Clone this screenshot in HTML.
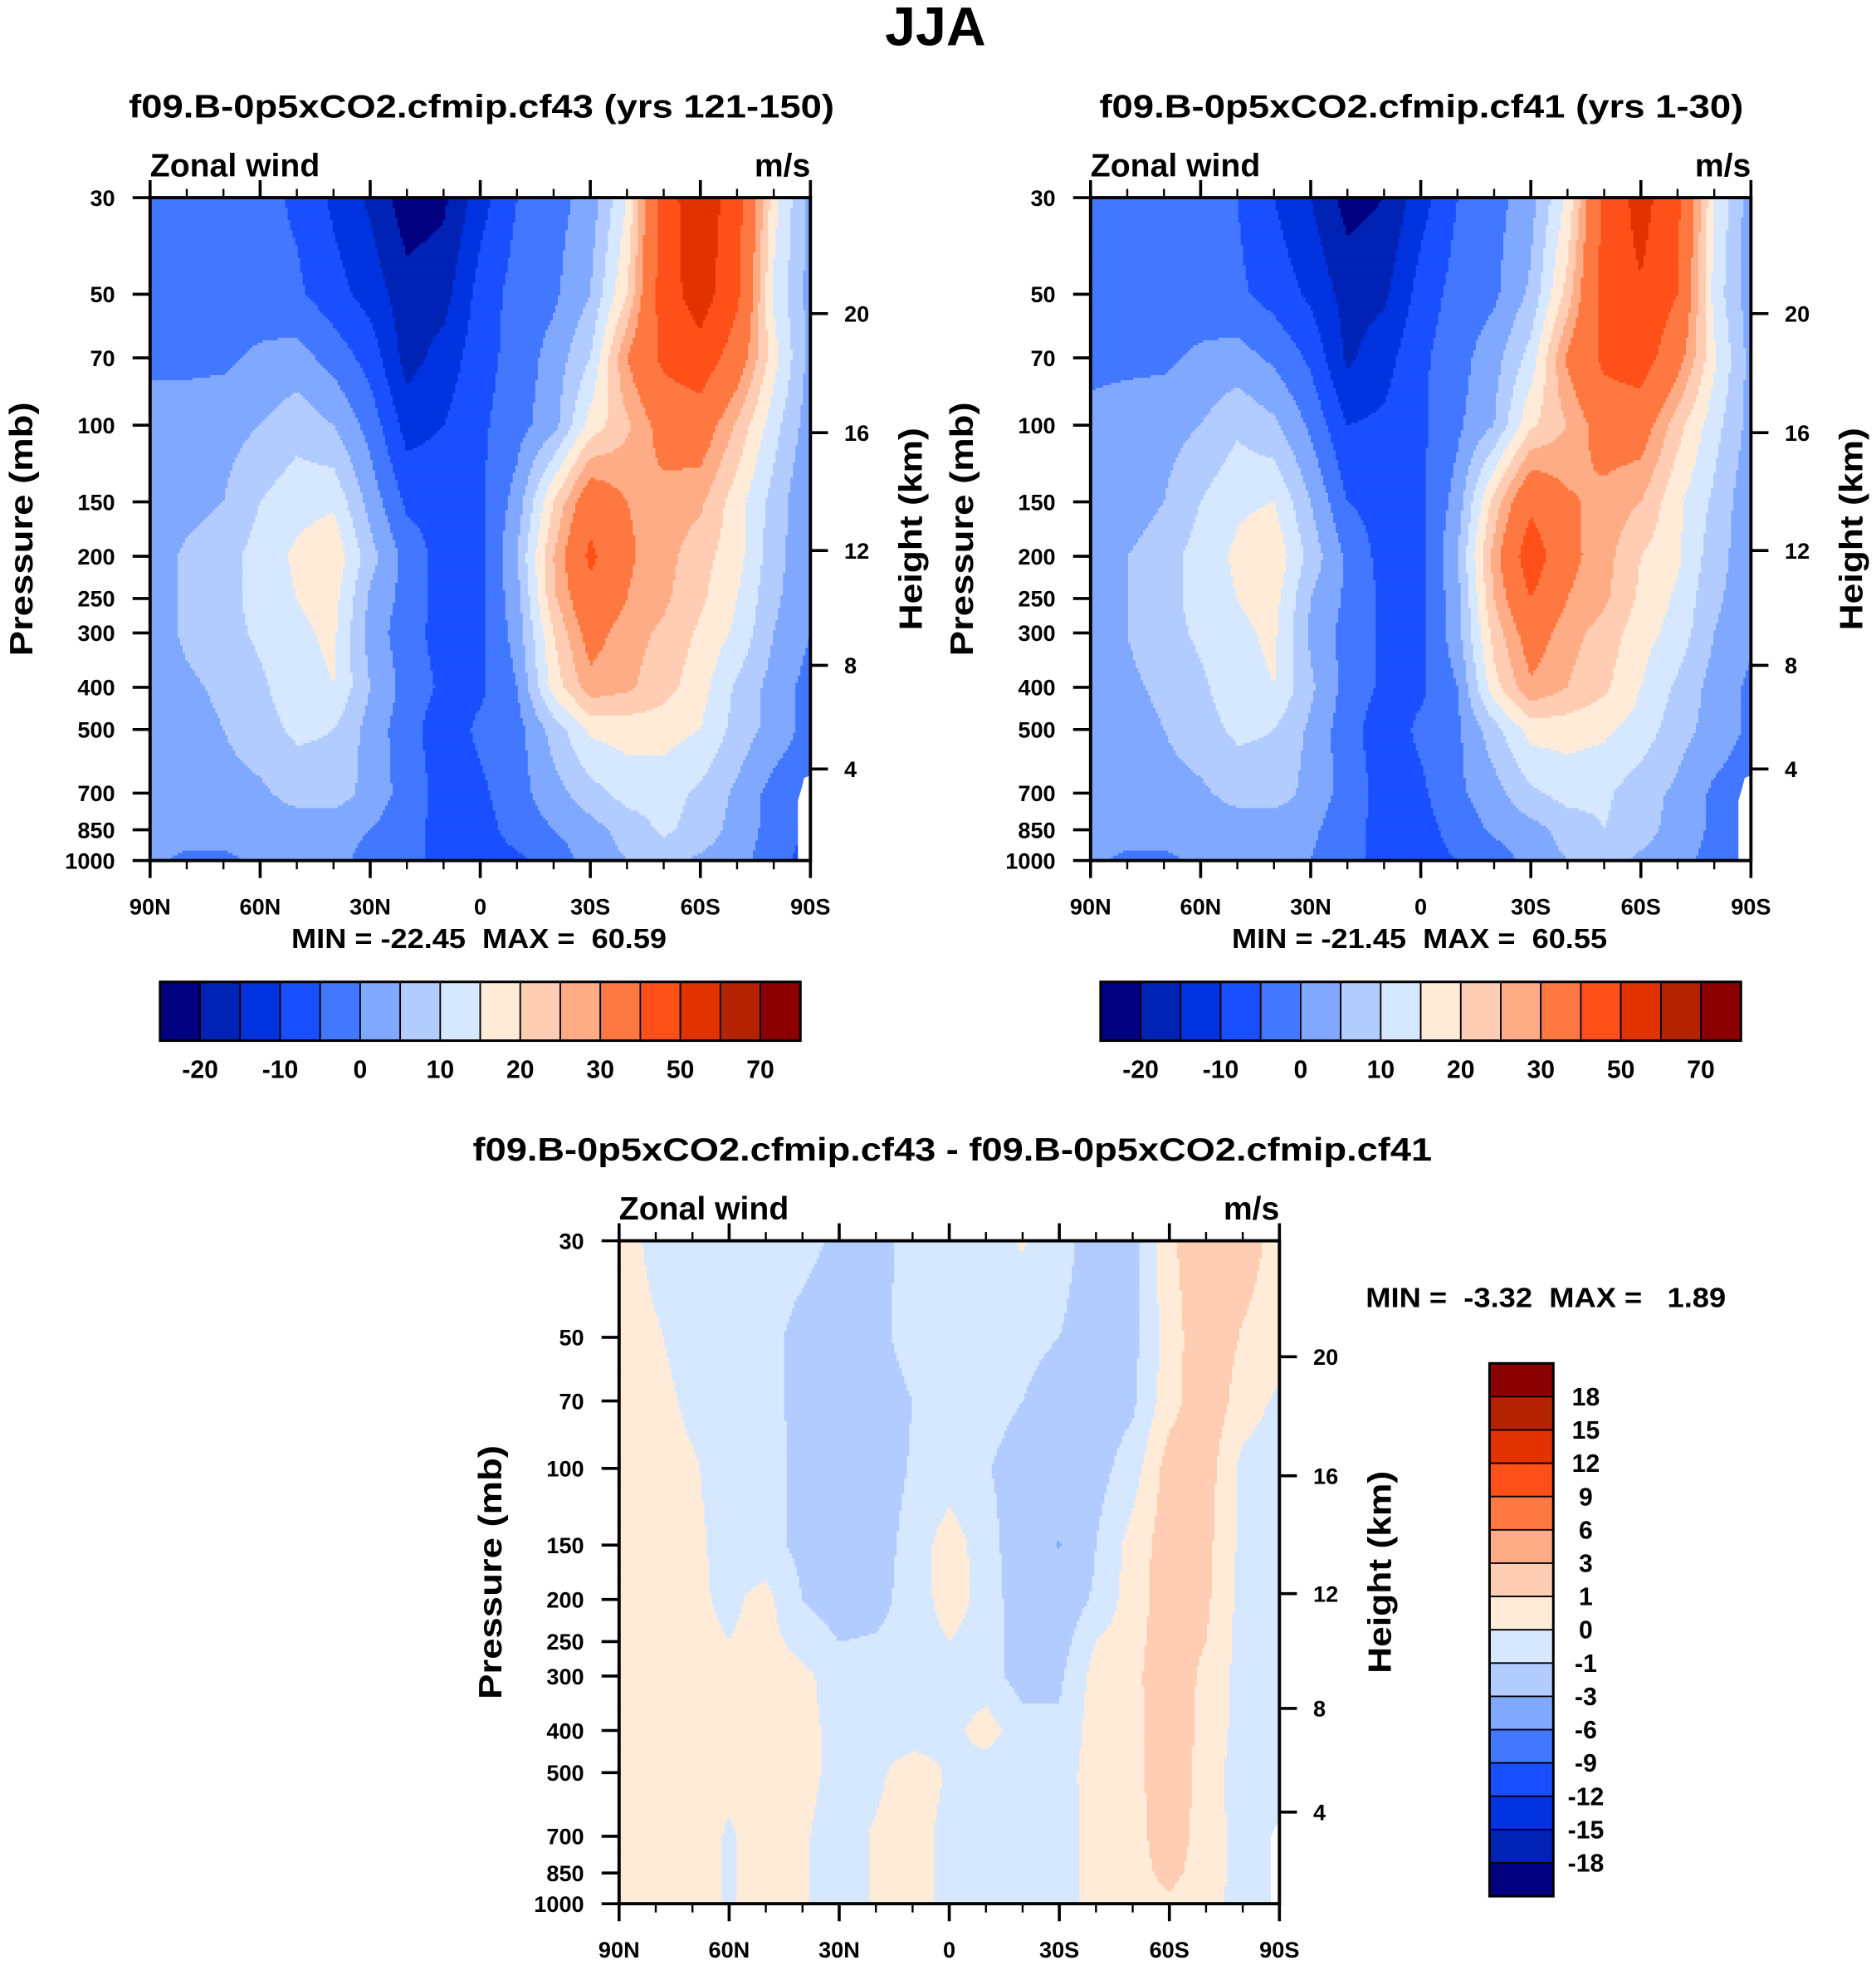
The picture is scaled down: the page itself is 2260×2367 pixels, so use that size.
<!DOCTYPE html>
<html><head><meta charset="utf-8"><title>JJA Zonal wind</title>
<style>
html,body{margin:0;padding:0;background:#fff;}
svg{display:block;}
text{font-family:"Liberation Sans",Arial,sans-serif;font-weight:bold;fill:#000;}
.pre{white-space:pre;}
</style></head>
<body>
<svg id="fig" xmlns="http://www.w3.org/2000/svg" width="2260" height="2367" viewBox="0 0 1500 1571">
<rect x="0" y="0" width="1500" height="1571" fill="#fff"/>
<text x="748" y="36" font-size="44" text-anchor="middle">JJA</text>
</svg>
<script>
// ---- data ----
const lats = [90,80,70,60,50,40,30,20,10,0,-10,-20,-30,-40,-50,-60,-70,-80,-90];
const levels = [30,50,70,100,150,200,250,300,400,500,700,850,1000];
const uCf43 = [
[-3,-3,-3,-3,-6,-11,-16,-23,-21,-12,-5,-2,2,15,45,57,44,17,3],
[-3,-3,-3,-3,-4,-8,-12,-18,-17,-8,-3,-1,5,20,45,55,42,14,3],
[-1,-1,-1,1,2,-2,-7,-17,-13,-7,-3,2,10,30,42,46,35,17,3],
[2,2,3,5,8,5,-2,-12,-10,-6,-2,3,17,24,33,35,24,12,2],
[2,3,5,10,13,14,3,-6,-7,-6,2,20,36,30,28,26,17,8,0],
[2,6,8,12,16,19,7,-2,-7,-7,5,25,42,31,27,22,17,7,1],
[2,6,8,12,15,17,4,-2,-7,-6,3,24,37,30,26,21,15,6,1],
[2,6,8,11,14,16,3,-3,-7,-6,2,20,33,27,24,19,14,5,0],
[2,4,6,9,13,15,5,-2,-6,-6,0,17,28,26,22,17,9,3,-2],
[2,3,5,8,11,10,3,-3,-8,-4,-2,7,16,17,17,15,8,3,-2],
[2,2,3,4,7,8,3,-2,-7,-6,-2,3,8,12,12,9,4,-2,-4],
[2,2,2,2,2,1,0,-3,-7,-7,-3,0,3,7,11,8,3,-2,-6],
[1,-1,-1,1,1,1,-1,-4,-6,-7,-6,-3,2,5,7,4,2,-3,-7]];
const uCf41 = [
[-3,-3,-3,-3,-5,-10,-15,-22,-20,-12,-5,-2,3,16,42,54,42,15,2],
[-3,-3,-3,-3,-4,-7,-11,-17,-16,-8,-3,-1,6,22,44,49,40,13,2],
[-1,-1,-1,1,2,-1,-6,-16,-12,-6,-2,3,12,31,42,45,33,16,3],
[1,2,3,5,9,6,-1,-10,-9,-6,-1,5,19,25,34,34,22,12,3],
[1,2,5,10,14,15,5,-5,-7,-6,2,22,38,31,28,25,16,9,1],
[1,5,8,12,16,19,8,-1,-7,-7,5,27,46,32,27,20,16,7,2],
[1,5,8,12,15,17,5,-1,-6,-6,3,25,40,30,26,19,14,6,2],
[1,5,8,11,14,16,4,-2,-6,-6,3,22,34,27,23,17,13,5,1],
[1,4,6,9,13,15,6,-2,-6,-6,0,18,29,25,21,15,9,3,-1],
[1,3,5,8,11,10,4,-3,-8,-4,-1,8,17,17,16,13,7,3,-1],
[1,2,3,4,7,8,3,-2,-7,-6,-1,3,9,12,11,7,4,-1,-3],
[1,2,2,2,2,1,1,-3,-7,-7,-3,1,3,7,10,7,3,-1,-5],
[1,-1,-1,1,1,1,0,-4,-6,-7,-5,-3,2,5,7,4,2,-2,-6]];
const uDiff = [
[0.5,-0.3,-0.5,-0.5,-0.6,-0.7,-1.2,-1.3,-0.7,-0.5,-0.4,0.1,-0.6,-1.5,-1.5,0.8,1.8,1.5,0.6],
[0.5,0.1,-0.4,-0.5,-0.7,-1.3,-1.6,-1.3,-0.6,-0.4,-0.5,-0.7,-1.0,-1.5,-1.3,0.5,1.8,0.9,0.5],
[0.5,0.3,-0.2,-0.5,-0.8,-1.2,-1.6,-1.5,-1.0,-0.6,-0.5,-1.0,-1.5,-1.6,-1.2,0.6,1.8,0.5,-0.2],
[0.6,0.4,0.1,-0.4,-0.7,-1.2,-1.8,-1.6,-0.9,-0.5,-0.9,-1.6,-1.7,-1.4,-0.5,1.5,1.5,-0.3,-0.5],
[0.6,0.5,0.2,-0.3,-0.6,-1.3,-1.7,-1.5,-0.6,0.5,-0.5,-1.8,-3.1,-1.0,0.4,1.6,1.3,-0.3,-0.6],
[0.6,0.5,0.2,-0.2,0.3,-1.0,-1.6,-1.4,-0.5,0.4,-0.3,-1.8,-1.8,-0.8,0.5,1.6,1.2,-0.4,-0.6],
[0.6,0.5,0.3,0.0,0.3,-0.3,-1.0,-0.9,-0.5,0.0,-0.4,-1.6,-1.5,0.0,0.6,1.7,1.0,-0.4,-0.6],
[0.6,0.5,0.4,0.2,0.4,0.2,-0.4,-0.5,-0.5,-0.4,-0.5,-1.5,-1.2,0.4,0.7,1.8,0.7,-0.4,-0.6],
[0.6,0.5,0.4,0.1,0.5,0.3,-0.3,-0.5,-0.5,-0.3,0.4,-0.5,-0.8,0.5,0.6,1.8,0.6,-0.4,-0.6],
[0.6,0.5,0.4,0.2,0.5,0.3,-0.3,-0.2,0.5,-0.1,-0.5,-0.9,-0.4,0.4,0.6,1.8,0.5,-0.5,-0.7],
[0.6,0.5,0.4,-0.1,0.4,0.1,-0.4,0.1,0.4,-0.3,-0.5,-0.5,-0.4,0.3,0.6,1.6,0.5,-0.4,-0.7],
[0.6,0.5,0.4,-0.1,0.4,0.1,-0.4,0.1,0.4,-0.3,-0.5,-0.5,-0.4,0.3,0.6,1.3,0.5,-0.4,-0.7],
[0.6,0.5,0.4,-0.1,0.4,0.1,-0.4,0.1,0.4,-0.3,-0.5,-0.5,-0.4,0.3,0.6,0.8,0.4,-0.4,-0.7]];
const bounds1 = [-20,-15,-10,-5,0,5,10,15,20,25,30,40,50,60,70];
const bounds3 = [-18,-15,-12,-9,-6,-3,-1,0,1,3,6,9,12,15,18];
const palette = ["#000080","#0022b5","#0033e0","#1a4fff","#4277ff","#80a8ff","#b3ccff","#d6e8ff","#ffebd7","#fecdb3","#fdac86","#fe7841","#fe5018","#e23200","#b42300","#8a0000"];
const barLabels1 = ["-20","-10","0","10","20","30","50","70"];
const barLabels3 = ["-18","-15","-12","-9","-6","-3","-1","0","1","3","6","9","12","15","18"];
const pTicks = [30,50,70,100,150,200,250,300,400,500,700,850,1000];
const latTicks = [90,60,30,0,-30,-60,-90];
const latLabels = ["90N","60N","30N","0","30S","60S","90S"];
const heightTicks = [20,16,12,8,4];
const heightPressure = [55.4,104,194,356,616];

// ---- drawing ----
const NS = "http://www.w3.org/2000/svg";
const svg = document.getElementById('fig');
function mk(tag, attrs, parent){
  const e = document.createElementNS(NS, tag);
  for (const k in attrs) e.setAttribute(k, attrs[k]);
  (parent||svg).appendChild(e); return e;
}
const LP0 = Math.log10(30), LP1 = Math.log10(1000);
function classOf(v, b){ let i=0; while(i<b.length && v>=b[i]) i++; return i; }
function sample(grid, lat, lp){
  let fc = (90-lat)/10; let c0 = Math.min(Math.floor(fc), lats.length-2); let tc = fc-c0;
  let r0 = 0; while(r0 < levels.length-2 && Math.log10(levels[r0+1]) < lp) r0++;
  const l0 = Math.log10(levels[r0]), l1 = Math.log10(levels[r0+1]);
  let tr = (lp-l0)/(l1-l0); tr = Math.max(0,Math.min(1,tr));
  const a = grid[r0][c0]*(1-tc)+grid[r0][c0+1]*tc;
  const b = grid[r0+1][c0]*(1-tc)+grid[r0+1][c0+1]*tc;
  return a*(1-tr)+b*tr;
}
function panel(name, grid, bounds, x0, y0, W, H, mask){
  const g = mk('g', {});
  
  
  const xS = lat => x0 + (90-lat)/180*W;
  const yS = p => y0 + (Math.log10(p)-LP0)/(LP1-LP0)*H;
  const step = 2;
  for (let y=y0; y<y0+H; y+=step){
    const lp = LP0 + (y+step/2-y0)/H*(LP1-LP0);
    let runStart = x0, runCls = -1;
    for (let x=x0; x<=x0+W; x+=step){
      let cls = -2;
      if (x < x0+W){ const lat = 90-(x+step/2-x0)/W*180; cls = classOf(sample(grid,lat,lp), bounds); }
      if (cls !== runCls){
        if (runCls >= 0){
          const r = mk('rect', {x:runStart, y:y, width:Math.min(x-runStart+0.4, x0+W-runStart), height:Math.min(step+0.4, y0+H-y), fill:palette[runCls]}, g);
          
          
        }
        runStart = x; runCls = cls;
      }
    }
  }
  if (mask) mk('path', {d:mask, fill:'#fff'}, g);
  const fr = mk('rect', {x:x0, y:y0, width:W, height:H, fill:'none', stroke:'#000', 'stroke-width':2.6});
  
  
  for (let lat=90; lat>=-90; lat-=10){
    const major = lat%30===0; const L = major?14:7; const x = xS(lat);
    mk('line',{x1:x,y1:y0,x2:x,y2:y0-L,stroke:'#000','stroke-width':major?2.4:1.6});
    mk('line',{x1:x,y1:y0+H,x2:x,y2:y0+H+L,stroke:'#000','stroke-width':major?2.4:1.6});
  }
  latTicks.forEach((lat,i)=>{
    const t = mk('text',{x:xS(lat), y:y0+H+43, 'font-size':18, 'text-anchor':'middle'});
    t.textContent = latLabels[i];
    
    
  });
  pTicks.forEach(p=>{
    const y = yS(p);
    mk('line',{x1:x0,y1:y,x2:x0-14,y2:y,stroke:'#000','stroke-width':2.4});
    const t = mk('text',{x:x0-28, y:y+6.5, 'font-size':18, 'text-anchor':'end'});
    t.textContent = String(p);
    
    
  });
  heightTicks.forEach((h,i)=>{
    const y = yS(heightPressure[i]);
    mk('line',{x1:x0+W,y1:y,x2:x0+W+14,y2:y,stroke:'#000','stroke-width':2.4});
    const t = mk('text',{x:x0+W+27, y:y+6.5, 'font-size':18, 'text-anchor':'start'});
    t.textContent = String(h);
    
    
  });
  const zw = mk('text',{x:x0, y:y0-17, 'font-size':26}); zw.textContent='Zonal wind';
  
  
  const un = mk('text',{x:x0+W, y:y0-17, 'font-size':26, 'text-anchor':'end'}); un.textContent='m/s';
  
  
  const pl = mk('text',{transform:`translate(${x0-94},${y0+H/2}) rotate(-90)`, 'font-size':26, 'text-anchor':'middle', textLength:203, lengthAdjust:'spacingAndGlyphs'});
  pl.textContent='Pressure (mb)';
  
  
  const hl = mk('text',{transform:`translate(${x0+W+89},${y0+H/2}) rotate(-90)`, 'font-size':26, 'text-anchor':'middle', textLength:162, lengthAdjust:'spacingAndGlyphs'});
  hl.textContent='Height (km)';
  
  
}
function hbar(name, x0, y0, W, H){
  const bw = W/16;
  for (let i=0;i<16;i++){
    const r = mk('rect',{x:x0+i*bw,y:y0,width:bw,height:H,fill:palette[i],stroke:'#000','stroke-width':1.2});
    
    
  }
  mk('rect',{x:x0,y:y0,width:W,height:H,fill:'none',stroke:'#000','stroke-width':2});
  barLabels1.forEach((s,k)=>{
    const t = mk('text',{x:x0+bw*(1+2*k), y:y0+77, 'font-size':20, 'text-anchor':'middle'});
    t.textContent = s;
    
    
  });
}
function title(name, s, x, y, len){
  const t = mk('text',{x:x, y:y, 'font-size':26, textLength:len, lengthAdjust:'spacingAndGlyphs'});
  t.textContent = s;
  
  
}
function minmax(name, s, x, y, len){
  const t = mk('text',{x:x, y:y, 'font-size':22, textLength:len, lengthAdjust:'spacingAndGlyphs', 'class':'pre'});
  t.textContent = s;
  
  
}

title('panel1-title','f09.B-0p5xCO2.cfmip.cf43 (yrs 121-150)',103,94,564);
title('panel2-title','f09.B-0p5xCO2.cfmip.cf41 (yrs 1-30)',879,94,515);
title('panel3-title','f09.B-0p5xCO2.cfmip.cf43 - f09.B-0p5xCO2.cfmip.cf41',378,928,767);

panel('panel1', uCf43, bounds1, 120, 158, 528, 530, 'M638,688 L638,640 L641,630 L643,622 L648,620 L648,688 Z');
panel('panel2', uCf41, bounds1, 872, 158, 528, 530, 'M1390,688 L1390,640 L1393,630 L1395,622 L1400,620 L1400,688 Z');
panel('panel3', uDiff, bounds3, 495, 992, 528, 530, 'M1016,1522 L1016,1470 L1019,1462 L1023,1456 L1023,1522 Z');

minmax('panel1-min-max','MIN = -22.45  MAX =  60.59',233,758,300);
minmax('panel2-min-max','MIN = -21.45  MAX =  60.55',985,758,300);
minmax('panel3-min-max','MIN =  -3.32  MAX =   1.89',1092,1045,288);

hbar('colorbar1',128,785,512,47);
hbar('colorbar2',880,785,512,47);

(function(){
  const x0=1191,y0=1090,W=51,H=426,bh=H/16;
  for (let i=0;i<16;i++){
    const r = mk('rect',{x:x0,y:y0+i*bh,width:W,height:bh,fill:palette[15-i],stroke:'#000','stroke-width':1.2});
    
    
  }
  mk('rect',{x:x0,y:y0,width:W,height:H,fill:'none',stroke:'#000','stroke-width':2});
  for (let k=0;k<15;k++){
    const t = mk('text',{x:1268, y:y0+bh*(k+1)+7, 'font-size':20, 'text-anchor':'middle'});
    t.textContent = barLabels3[14-k];
    
    
  }
})();
</script>
</body></html>
